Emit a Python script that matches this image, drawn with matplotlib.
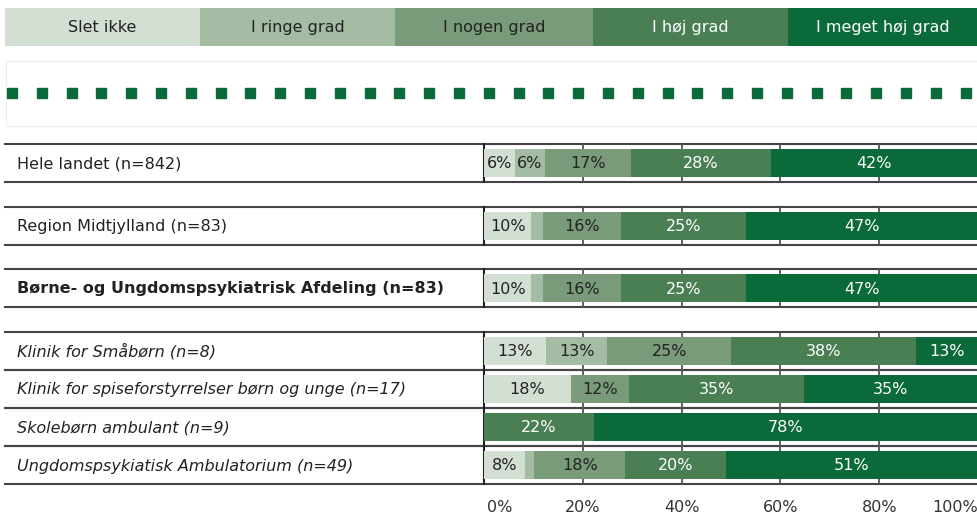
import numpy as np
import matplotlib.pyplot as plt
from matplotlib.patches import Rectangle

categories = ['Slet ikke', 'I ringe grad', 'I nogen grad', 'I høj grad', 'I meget høj grad']
colors = ['#d3dfd3', '#a3bca3', '#7a9b7a', '#4a7f54', '#0b6a3a']
text_colors = ['#222222', '#222222', '#222222', 'white', 'white']

units = ['Hele landet (n=842)',
         'Region Midtjylland (n=83)',
         'Børne- og Ungdomspsykiatrisk Afdeling (n=83)',
         'Klinik for Småbørn (n=8)',
         'Klinik for spiseforstyrrelser børn og unge (n=17)',
         'Skolebørn ambulant (n=9)',
         'Ungdomspsykiatisk Ambulatorium (n=49)']
unit_weight = ['normal', 'normal', 'bold', 'normal', 'normal', 'normal', 'normal']
unit_style = ['normal', 'normal', 'normal', 'italic', 'italic', 'italic', 'italic']

slet_ikke = [6.3, 9.6, 9.6, 12.5, 17.6, 0.0, 8.2]
ringe = [6.0, 2.4, 2.4, 12.5, 0.0, 0.0, 2.0]
nogen = [17.4, 15.7, 15.7, 25.0, 11.8, 0.0, 18.4]
hoej = [28.3, 25.3, 25.3, 37.5, 35.3, 22.2, 20.4]
meget_hoej = [42.0, 47.0, 47.0, 12.5, 35.3, 77.8, 51.0]

ticks = [0, 20, 40, 60, 80, 100]
tick_labels = ['0%', '20%', '40%', '60%', '80%', '100%']

W, H = 978, 515
fs = 11.5
fig = plt.figure(figsize=(W / 100, H / 100), dpi=100)

# overlay in pixel coords for the table layout
axf = fig.add_axes([0, 0, 1, 1])
axf.set_xlim(0, W)
axf.set_ylim(H, 0)
axf.axis('off')

x0 = 484
ax = fig.add_axes([x0 / W, 0, (W - x0) / W, 1])
ax.set_xlim(0, 100)
ax.set_ylim(H, 0)
ax.axis('off')

# legend strip
edges = [5, 200, 395, 593, 788, 978]
for i, cat in enumerate(categories):
    axf.add_patch(Rectangle((edges[i], 8), edges[i + 1] - edges[i], 38,
                            facecolor=colors[i], edgecolor='none'))
    axf.text((edges[i] + edges[i + 1]) / 2, 27.5, cat, ha='center', va='center',
             fontsize=fs, color=text_colors[i])

# dotted strip
axf.add_patch(Rectangle((6, 61), W - 6, 65, facecolor='white',
                        edgecolor='#eeeeee', lw=0.8))
dots_x = np.arange(12, 975, 29.8)
axf.plot(dots_x, np.full(len(dots_x), 92.5), ls='none', marker='s',
         ms=7, color=colors[4], mec=colors[4])

row_y = [163, 225.5, 288, 350.5, 388.5, 427, 465]
half = 19
bar_h = 28

data = np.array([slet_ikke, ringe, nogen, hoej, meget_hoej])
left = np.zeros(len(units))
for k in range(len(categories)):
    ax.barh(row_y, data[k], left=left, height=bar_h, color=colors[k],
            zorder=2)
    for r, v in enumerate(data[k]):
        if v >= 5:
            ax.text(left[r] + v / 2, row_y[r] + 1, f'{int(v + 0.5)}%',
                    ha='center', va='center', fontsize=fs,
                    color=text_colors[k], zorder=3)
    left += data[k]

for r, name in enumerate(units):
    top, bot = row_y[r] - half, row_y[r] + half
    ax.vlines(ticks[1:-1], top, bot, color='#555555', lw=1.3, zorder=1)
    axf.plot([5, W], [top, top], color='#444444', lw=1.5)
    axf.plot([5, W], [bot, bot], color='#444444', lw=1.5)
    axf.plot([x0, x0], [top, bot], color='#222222', lw=1.5)
    axf.text(17, row_y[r] + 1, name, ha='left', va='center', fontsize=fs,
             fontweight=unit_weight[r], fontstyle=unit_style[r], color='#222222')

for t, lab in zip(ticks, tick_labels):
    ha = 'left' if t == 0 else ('right' if t == 100 else 'center')
    xt = t + 0.6 if t == 0 else t
    ax.text(xt, 508, lab, ha=ha, va='center', fontsize=fs, color='#333333')

fig.savefig('out.png', dpi=100)
